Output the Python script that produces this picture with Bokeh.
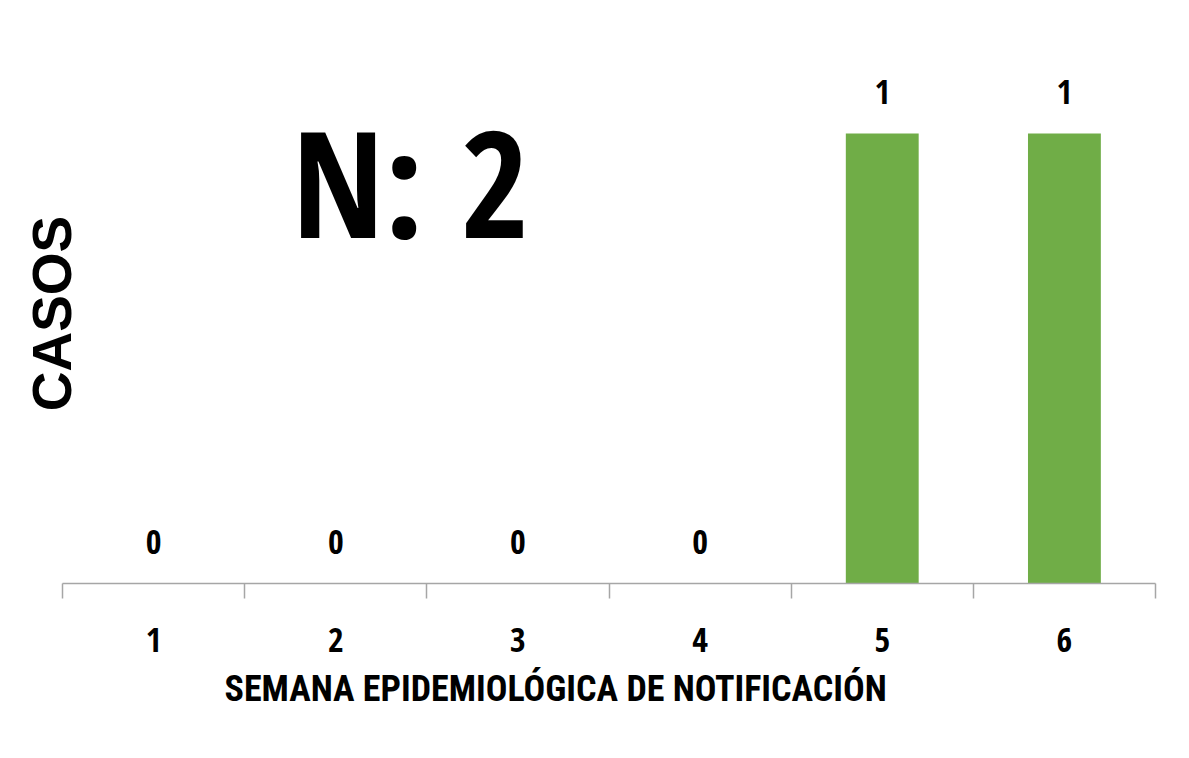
from bokeh.plotting import figure
from bokeh.models import ColumnDataSource, FixedTicker, Label, Range1d, Title
from bokeh.core.properties import value
from bokeh.embed import file_html
from bokeh.resources import INLINE

weeks = [1, 2, 3, 4, 5, 6]
tick_labels = ["1", "2", "3", "4", "5", "6"]
cases = [0, 0, 0, 0, 1, 1]
total_label = "N: 2"
x_title = "SEMANA EPIDEMIOLÓGICA  DE NOTIFICACIÓN"
y_title = "CASOS"

DIGIT_FONT = "Open Sans Condensed"
W, H = 1173, 742
p = figure(width=W, height=H, output_backend="svg", toolbar_location=None,
           x_range=Range1d(0.5, 6.5), y_range=Range1d(0, 1.2),
           min_border_left=62, min_border_right=18, min_border_top=43, min_border_bottom=159)
p.outline_line_color = None
p.xgrid.visible = False
p.ygrid.visible = False
p.background_fill_color = "white"
p.border_fill_color = "white"

src = ColumnDataSource(dict(x=weeks, top=cases, lab=[str(c) for c in cases]))
p.vbar(x="x", top="top", width=0.4, source=src, fill_color="#70AD47", line_color=None)
p.text(x="x", y="top", text="lab", source=src, text_align="center", text_baseline="bottom",
       y_offset=-30, text_font=value(DIGIT_FONT), text_font_style="bold",
       text_font_size="34px", text_color="black")

# y axis: only its title
yax = p.yaxis[0]
yax.ticker = FixedTicker(ticks=[])
yax.major_tick_line_color = None
yax.minor_tick_line_color = None
yax.axis_line_color = None
yax.major_label_text_font_size = "0px"
yax.axis_label = y_title
yax.axis_label_text_font = "Liberation Sans"
yax.axis_label_text_font_style = "bold"
yax.axis_label_text_font_size = "55px"
yax.axis_label_text_color = "black"
yax.axis_label_standoff = -20

ax = p.xaxis[0]
ax.ticker = FixedTicker(ticks=weeks, minor_ticks=[w - 0.5 for w in weeks] + [weeks[-1] + 0.5])
ax.major_label_overrides = {w: t for w, t in zip(weeks, tick_labels)}
ax.major_tick_line_color = None
ax.major_tick_out = 0
ax.major_tick_in = 0
ax.minor_tick_out = 15
ax.minor_tick_in = 0
ax.minor_tick_line_color = "#A6A6A6"
ax.minor_tick_line_width = 1.5
ax.axis_line_color = "#A6A6A6"
ax.axis_line_width = 1.5
ax.major_label_text_font = DIGIT_FONT
ax.major_label_text_font_style = "bold"
ax.major_label_text_font_size = "34px"
ax.major_label_text_color = "black"
ax.major_label_standoff = 29

p.add_layout(Title(text=x_title, align="left", offset=162, standoff=22,
                   text_font="Roboto Condensed", text_font_style="bold",
                   text_font_size="36px", text_color="black"), "below")
p.add_layout(Label(x=348, y=403, x_units="screen", y_units="screen", text=total_label,
                   text_align="center", text_baseline="alphabetic",
                   text_font=DIGIT_FONT, text_font_style="bold",
                   text_font_size="148px", text_color="black"))

open("out.html", "w").write(file_html(p, INLINE))
